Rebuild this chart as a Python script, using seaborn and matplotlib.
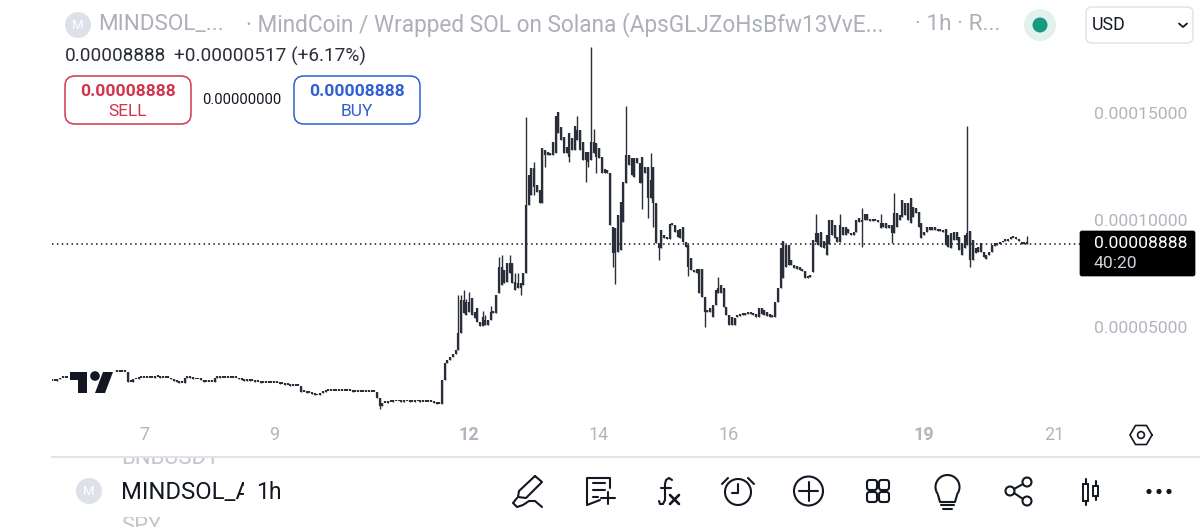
import numpy as np
import pandas as pd
import matplotlib
matplotlib.use("Agg")
import matplotlib.pyplot as plt
from matplotlib.patches import FancyBboxPatch, Circle, Rectangle, Polygon
from matplotlib.ticker import StrMethodFormatter
import seaborn as sns

# ---------- data: prices in units of 1e-5, hourly candles ----------
quiet_close = [
    2.48,2.50,2.55,2.62,2.63,2.62,2.60,2.62,2.65,2.70,
    2.72,2.75,2.78,2.80,2.82,2.85,2.85,2.86,2.88,2.88,
    2.90,2.90,2.90,2.90,2.90,2.92,2.90,2.88,2.43,2.45,
    2.55,2.58,2.60,2.62,2.62,2.60,2.62,2.63,2.65,2.65,
    2.63,2.62,2.62,2.60,2.55,2.50,2.42,2.38,2.38,2.62,
    2.65,2.60,2.58,2.55,2.55,2.52,2.45,2.42,2.43,2.45,
    2.62,2.65,2.62,2.62,2.62,2.62,2.62,2.60,2.60,2.55,
    2.52,2.50,2.52,2.50,2.48,2.45,2.42,2.40,2.40,2.38,
    2.38,2.38,2.40,2.38,2.35,2.33,2.30,2.28,2.25,2.25,
    2.25,2.24,1.96,1.95,1.92,1.90,1.85,1.82,1.80,1.90,
    1.95,2.00,2.02,2.02,2.03,2.03,2.02,2.01,2.01,2.00,
    2.00,1.98,1.98,1.98,1.98,1.97,1.97,1.96,1.96,1.96,
    1.68,1.30,1.45,1.45,1.50,1.50,1.52,1.52,1.52,1.50,
    1.52,1.52,1.50,1.50,1.52,1.52,1.50,1.50,1.50,1.50,
    1.48,1.45,1.42,1.42,2.52,3.32,3.45,3.60,3.75,3.93,
]
body_low = [
    3.93,4.70,5.64,5.56,5.71,5.56,5.41,5.25,5.05,5.05,
    5.09,5.09,5.33,5.64,5.64,6.57,6.96,7.04,7.12,7.51,
    7.04,6.73,6.80,6.80,6.96,7.51,10.70,11.17,11.56,11.32,
    10.78,10.78,13.04,13.04,13.04,13.04,13.11,14.05,13.74,13.11,
    13.11,12.96,13.27,13.27,13.74,13.27,12.80,12.80,12.72,12.80,
    13.11,12.96,12.88,12.18,12.18,12.21,9.77,8.44,8.44,8.52,
    8.60,9.92,11.71,12.57,12.10,12.02,12.65,11.74,11.71,12.18,
    11.01,11.01,10.78,8.91,8.68,8.68,9.14,9.10,9.10,9.77,
    9.45,9.22,9.14,8.99,8.75,7.82,7.66,7.55,7.51,6.57,
    6.41,5.71,5.71,5.71,5.48,6.03,6.57,6.57,5.95,5.56,
    5.09,5.09,5.10,5.48,5.52,5.55,5.58,5.60,5.60,5.58,
    5.48,5.48,5.60,5.55,5.50,5.48,5.48,5.48,6.18,6.80,
    7.27,7.82,7.89,7.89,7.75,7.70,7.65,7.60,7.27,7.27,
    7.35,7.58,8.98,8.83,8.75,8.67,8.36,8.90,9.30,9.14,
    8.98,8.98,9.30,9.30,9.37,9.30,9.30,9.45,9.92,9.92,
    10.00,10.00,9.95,9.95,9.95,9.92,9.61,9.67,9.61,9.61,
    9.37,9.37,9.69,10.00,10.15,10.23,10.00,9.84,10.15,10.31,
    9.69,9.14,9.30,9.45,9.55,9.55,9.53,9.50,9.50,9.45,
    8.83,8.75,8.67,9.06,9.06,8.60,8.36,8.67,8.83,8.13,
    8.13,8.44,8.52,8.52,8.28,8.17,8.36,8.52,8.79,8.83,
    8.90,8.95,9.00,9.03,9.10,9.14,9.10,9.00,8.90,8.88,8.88,
]
body_high = [
    4.70,6.26,6.26,6.18,6.18,6.34,5.71,5.87,5.25,5.48,
    5.33,5.33,5.71,5.71,6.49,7.82,7.82,7.66,7.97,7.97,
    7.97,7.12,7.04,7.04,7.51,10.70,12.10,12.41,12.41,11.63,
    11.40,13.35,13.27,13.19,13.11,13.66,14.86,15.06,14.36,13.89,
    13.43,14.05,13.81,14.39,14.20,14.20,13.66,13.19,13.19,13.66,
    13.66,13.58,13.35,12.96,12.37,12.34,12.21,9.69,9.61,10.23,
    10.86,11.79,13.04,13.04,12.88,12.88,12.88,12.65,12.93,12.49,
    12.49,11.87,12.49,10.78,8.91,9.53,9.30,9.22,9.81,9.81,
    9.77,9.53,9.56,9.66,8.99,8.83,8.21,7.66,7.69,7.69,
    7.69,6.41,5.79,5.87,6.03,6.73,6.80,6.96,6.80,5.95,
    5.56,5.48,5.40,5.56,5.60,5.62,5.65,5.66,5.67,5.65,
    5.60,5.87,5.87,5.80,5.72,5.60,5.55,6.18,6.80,8.67,
    9.00,8.83,8.83,8.13,7.89,7.85,7.80,7.72,7.62,7.40,
    7.42,9.06,9.37,9.37,9.45,9.00,9.30,10.00,10.00,9.76,
    9.22,9.76,9.65,9.65,9.60,9.37,9.45,10.00,10.08,10.00,
    10.26,10.26,10.00,9.98,9.97,9.95,9.84,9.84,9.84,9.76,
    9.76,10.31,10.31,10.23,10.93,10.78,10.78,11.01,10.59,10.54,
    10.39,9.84,9.45,9.65,9.69,9.69,9.65,9.60,9.55,9.50,
    9.60,9.30,9.37,9.45,9.45,9.22,8.91,9.30,9.37,9.50,
    9.06,8.67,8.75,8.91,8.52,8.36,8.52,8.83,8.91,8.88,
    8.96,9.00,9.05,9.07,9.15,9.18,9.14,9.05,8.97,8.93,8.90,
]
high_hours = [150,151,152,153,154,159,160,162,165,166,169,171,172,175,178,194,199,200,212,221,246,282,291,299,306,311,338,360]
high_values = [6.50,6.50,6.73,6.33,6.65,5.76,5.56,5.98,8.28,8.36,8.36,7.51,7.51,14.80,12.72,14.86,18.10,14.24,15.34,13.11,7.35,10.26,10.28,10.54,10.26,11.27,14.39,9.25]
low_hours = [121,173,178,182,191,197,198,201,207,208,218,220,222,224,235,241,299,310,339]
low_values = [1.17,6.49,11.17,12.49,12.72,11.79,12.49,12.18,7.82,7.00,10.50,10.08,9.69,8.13,7.38,4.98,8.75,8.94,7.82]

x_ticks = [7, 9, 12, 14, 16, 19, 21]
y_ticks = [5, 10, 15]
last_price = 8.888
scale = 1e-5
first_day = 5.585

# ---------- candles ----------
q_low = [min(a, b) for a, b in zip([quiet_close[0]] + quiet_close[:-1], quiet_close)]
q_high = [max(a, b) for a, b in zip([quiet_close[0]] + quiet_close[:-1], quiet_close)]
lows = np.array(q_low + body_low)
highs = np.array(q_high + body_high)
wick_top = highs.copy()
wick_bot = lows.copy()
wick_top[high_hours] = high_values
wick_bot[low_hours] = low_values
hours = np.arange(len(lows))
days = first_day + hours / 24
min_body = 0.09
shown_high = np.maximum(highs, lows + min_body)

bodies = pd.DataFrame({
    "day": np.concatenate([days, days]),
    "price": np.concatenate([lows, shown_high]) * scale,
    "candle": np.concatenate([hours, hours]),
})
wicks = pd.DataFrame({
    "day": np.concatenate([days, days]),
    "price": np.concatenate([wick_bot, wick_top]) * scale,
    "candle": np.concatenate([hours, hours]),
})

sns.set_theme(style="white")
plt.rcParams["font.family"] = ["Roboto", "DejaVu Sans"]

W, H = 1200, 527
fig = plt.figure(figsize=(W / 100, H / 100), dpi=100, facecolor="white")
ax = fig.add_axes([52 / W, (H - 455) / H, (W - 52) / W, 455 / H])
ink = "#2a2e39"
sns.lineplot(data=wicks, x="day", y="price", units="candle", estimator=None, sort=False,
             color=ink, lw=1.0, solid_capstyle="butt", legend=False, ax=ax)
sns.lineplot(data=bodies, x="day", y="price", units="candle", estimator=None, sort=False,
             color=ink, lw=1.6, solid_capstyle="butt", legend=False, ax=ax)
ax.set_xlim(7 + (52 - 144) / 65, 7 + (1200 - 144) / 65)
ax.set_ylim((15 - (455 - 113) / 21.4) * scale, (15 + 113 / 21.4) * scale)
ax.axhline(last_price * scale, xmin=0, xmax=(1080 - 52) / (W - 52), color="#131722",
           lw=1.1, ls=(0, (1, 2.2)), zorder=1)
ax.set_xlabel("")
ax.set_ylabel("")
for s in ax.spines.values():
    s.set_visible(False)
ax.set_xticks(x_ticks)
ax.set_xticklabels([str(v) for v in x_ticks])
ax.set_yticks([v * scale for v in y_ticks])
ax.yaxis.set_major_formatter(StrMethodFormatter("{x:.8f}"))
ax.tick_params(axis="x", length=0, pad=-21, labelsize=13, labelcolor="#b2b5be")
ax.tick_params(axis="y", length=0, left=False, labelleft=False, labelright=True,
               pad=-76.3, labelsize=12.6, labelcolor="#b2b5be")
for lab in ax.get_xticklabels():
    if lab.get_text() in ("12", "19"):
        lab.set_fontweight("bold")
ax.set_facecolor("none")

# ---------- app chrome, in pixel coordinates ----------
ui = fig.add_axes([0, 0, 1, 1], facecolor="none")
ui.set_xlim(0, W)
ui.set_ylim(H, 0)
ui.axis("off")
dark = "#131722"
grey = "#adb0b8"


def label(x, y, s, size, color=dark, weight="normal", ha="left"):
    return ui.text(x, y, s, fontsize=size, color=color, fontweight=weight, ha=ha, va="center")


def clipped(txt, x, y, w, h):
    txt.set_clip_path(Rectangle((x, y), w, h, transform=ui.transData))
    txt.set_clip_on(True)


def rbox(x0, y0, x1, y1, r, ec, fc="white", lw=1.1, z=3):
    ui.add_patch(FancyBboxPatch((x0 + r, y0 + r), x1 - x0 - 2 * r, y1 - y0 - 2 * r,
                                boxstyle=f"round,pad={r},rounding_size={r}", ec=ec, fc=fc, lw=lw, zorder=z))


def stroke(xs, ys, lw=1.5, color=dark):
    ui.plot(xs, ys, color=color, lw=lw, solid_capstyle="round", solid_joinstyle="round", zorder=5)


def ring(x, y, r, lw=1.5, color=dark, fc="none"):
    ui.add_patch(Circle((x, y), r, ec=color, fc=fc, lw=lw, zorder=5))


# header
ui.add_patch(Circle((78, 25), 13, fc="#dfe1ea", ec="none"))
label(78, 25.5, "M", 9.5, "white", ha="center")
label(98, 25, "MINDSOL_...", 16.2, grey)
label(246, 25, "· MindCoin / Wrapped SOL on Solana (ApsGLJZoHsBfw13VvE...", 16.3, grey)
label(915, 25, "· 1h · R...", 16.2, grey)
label(65, 56, "0.00008888", 13.7, ink)
label(174, 56, "+0.00000517 (+6.17%)", 13.7, ink)

rbox(65, 76, 191, 124, 10, "#d1354b")
label(128, 91, "0.00008888", 12.6, "#d1354b", "bold", "center")
label(128, 111, "SELL", 12.5, "#d1354b", ha="center")
label(242, 100, "0.00000000", 10.6, dark, ha="center")
rbox(294, 76, 420, 124, 10, "#2f5fd0")
label(357, 91, "0.00008888", 12.6, "#2f5fd0", "bold", "center")
label(357, 111, "BUY", 12.5, "#2f5fd0", ha="center")

ui.add_patch(Circle((1040, 25), 16, fc="#e3f1ee", ec="none"))
ui.add_patch(Circle((1040, 25), 7.5, fc="#149b7f", ec="none"))
rbox(1086, 7, 1193, 43, 6, "#e0e3eb")
label(1092, 25, "USD", 12.8, dark)
stroke([1179, 1183, 1187], [23.5, 27, 23.5], 1.3)

# last price tag
rbox(1080, 231, 1195, 276, 2, "black", "black", 0.5)
label(1094, 244, "0.00008888", 12.6, "white")
label(1094, 264, "40:20", 12.6, "#d0d3da")

# watermark with its white backing
ui.add_patch(Rectangle((68, 369), 47, 27, fc="white", ec="none", zorder=3))
ui.add_patch(Polygon([(70, 372), (87, 372), (87, 393), (78, 393), (78, 380), (70, 380)], fc=dark, ec="none", zorder=4))
ui.add_patch(Circle((95, 376), 4.8, fc=dark, ec="none", zorder=4))
ui.add_patch(Polygon([(103, 372), (113, 372), (105, 393), (95, 393)], fc=dark, ec="none", zorder=4))

# axis settings icon
ang = np.deg2rad(np.arange(0, 361, 60))
stroke(1141 + 11 * np.cos(ang), 435 + 11 * np.sin(ang), 1.2)
ring(1141, 435, 3.4, 1.2)

# bottom bar
ui.plot([52, 1200], [456.5, 456.5], color="#e0e3eb", lw=1.5, zorder=3)
clipped(label(121, 458, "BNBUSD1", 15.8, "#c4c6cc"), 0, 458, 400, 12)
clipped(label(121, 527, "SPY", 15.8, "#c4c6cc"), 0, 517, 400, 10)
ui.add_patch(Circle((89, 491), 13, fc="#dfe1ea", ec="none"))
label(89, 491.5, "M", 9.5, "white", ha="center")
clipped(label(121, 492.5, "MINDSOL_A", 17.2, dark), 100, 470, 144, 40)
label(256, 492.5, "1h", 16.5, dark)

# pen
stroke([535, 542, 526, 518, 519, 535], [476, 482, 498, 497, 491, 476])
stroke([517, 513, 517, 523, 529, 535, 542], [498, 503, 507, 505, 501, 501, 507])
# note
stroke([610, 610, 587, 587, 600], [488, 478, 478, 505, 500])
stroke([593, 605], [483, 483])
stroke([593, 605], [490, 490])
stroke([593, 598], [497, 497])
stroke([608, 608], [492, 504])
stroke([601, 615], [498, 498])
# fx
stroke([672, 669, 666, 665, 665, 663, 660, 659], [480, 478, 480, 484, 500, 504, 504, 501])
stroke([661, 671], [488, 488])
stroke([670, 679], [495, 504], 1.9)
stroke([679, 670], [495, 504], 1.9)
# alarm
ring(738, 492, 13)
stroke([738, 738, 732], [484, 493, 493])
stroke([722, 728], [484, 478])
stroke([754, 748], [484, 478])
# plus
ring(808.5, 491, 14.5)
stroke([799, 818], [491, 491])
stroke([808.5, 808.5], [481.5, 500.5])
# grid
for gx in (872, 884):
    for gy in (485, 497):
        rbox(gx - 5, gy - 5, gx + 5, gy + 5, 2.5, dark, "none", 1.5, 5)
# bulb
bt = np.deg2rad(np.linspace(-215, 35, 40))
stroke(947.5 + 12 * np.cos(bt), 487 + 12 * np.sin(bt))
stroke([938, 940, 955, 957], [495, 502, 502, 495])
stroke([941, 954], [505, 505])
stroke([943, 952], [508.5, 508.5])
# share
ring(1027, 482, 4.5)
ring(1010, 491, 4.5)
ring(1027, 501, 4.5)
stroke([1014, 1023], [489, 484])
stroke([1014, 1023], [493, 499])
# candles icon
ui.add_patch(Rectangle((1083, 484), 5, 17, ec=dark, fc="none", lw=1.4, zorder=5))
ui.add_patch(Rectangle((1093, 486), 5, 10, ec=dark, fc="none", lw=1.4, zorder=5))
stroke([1085.5, 1085.5], [479, 484])
stroke([1085.5, 1085.5], [501, 505])
stroke([1095.5, 1095.5], [481, 486])
stroke([1095.5, 1095.5], [496, 500])
# dots
for dx in (1149, 1159, 1169):
    ui.add_patch(Circle((dx, 491.5), 2.6, fc=dark, ec="none", zorder=5))

fig.savefig("out.png", dpi=100, facecolor="white")
